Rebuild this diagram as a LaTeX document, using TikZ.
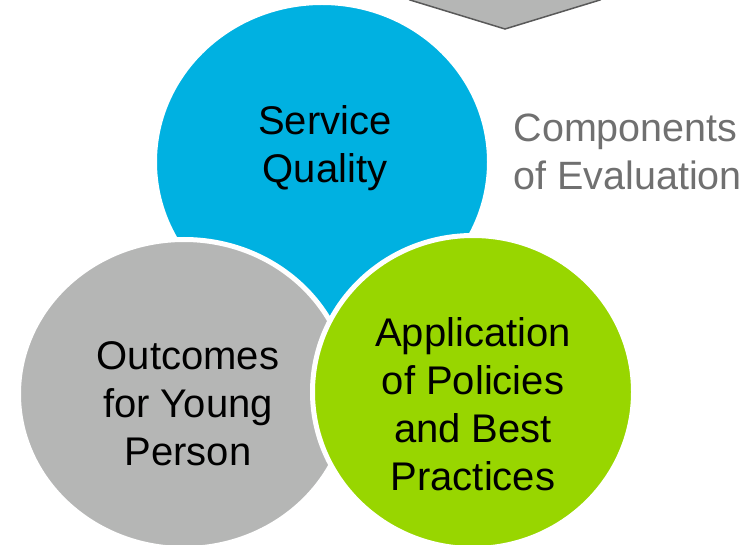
\documentclass[tikz,border=0pt]{standalone}
\usepackage{fontspec}
\setmainfont{Liberation Sans}
\usepackage{xcolor}
\usepackage{tikz}
\usetikzlibrary{positioning,shapes.geometric}

\definecolor{evalblue}{RGB}{0,177,225}
\definecolor{evalgreen}{RGB}{152,214,0}
\definecolor{evalgray}{RGB}{181,182,181}
\definecolor{evaldark}{RGB}{89,89,89}
\definecolor{evaltext}{RGB}{112,112,112}

\tikzset{
  part/.style={ellipse, draw=white, line width=5pt, inner sep=0pt},
  label text/.style={align=center, font=\fontsize{40}{48}\selectfont},
}

\begin{document}
\begin{tikzpicture}[x=1pt, y=-1pt]
           \useasboundingbox (0,0) rectangle (755,545);
           \clip (0,0) rectangle (755,545);
           % arrow coming down from above
           \draw[fill=evalgray, draw=evaldark, line width=1.5pt]
             (380,-20) -- (410,0) -- (505,29) -- (600,0) -- (630,-20) -- cycle;
           \node[part, fill=evalblue, minimum width=335pt, minimum height=319pt] (quality) at (322,162) {};
           \node[part, fill=evalgray, minimum width=331pt, minimum height=309pt] (outcomes) at (184,394) {};
           \node[part, fill=evalgreen, minimum width=321pt, minimum height=313pt] (policies) at (473,392) {};
           \node[label text] (qualitytext) at (325,148) {Service\\Quality};
           \node[label text] (outcomestext) at (188,404) {Outcomes\\for Young\\Person};
           \node[label text] (policiestext) at (473,404) {Application\\of Policies\\and Best\\Practices};
           \node[align=left, anchor=west, text=evaltext, font=\fontsize{39.5}{48}\selectfont] (title) at (510,152) {Components\\of Evaluation};
        \end{tikzpicture}
\end{document}
